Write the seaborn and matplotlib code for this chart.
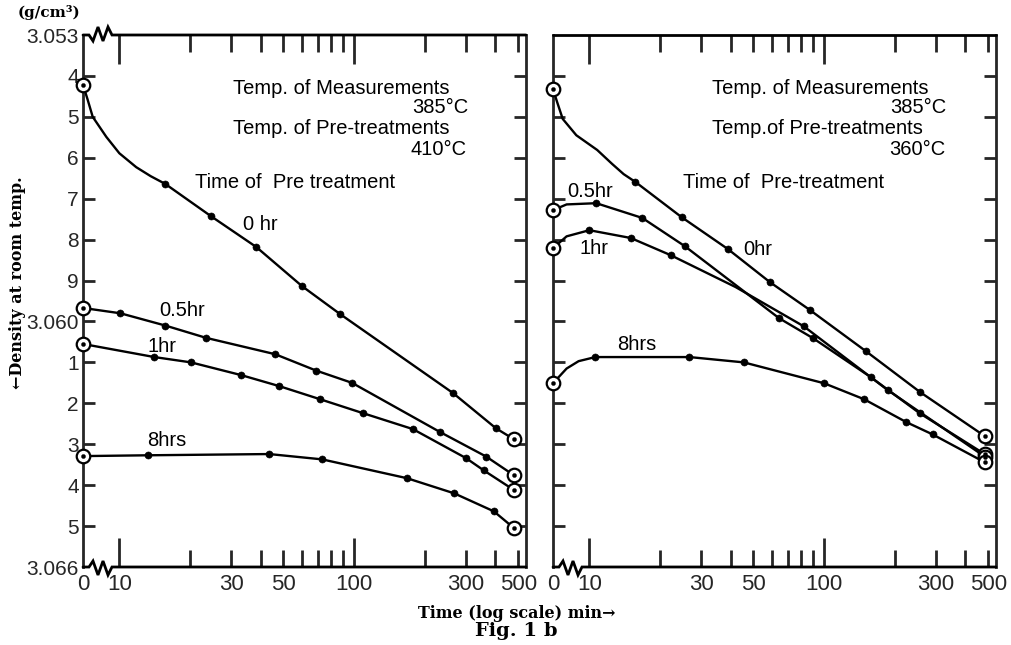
import numpy as np
import pandas as pd
import matplotlib
matplotlib.use("Agg")
import matplotlib.pyplot as plt
import seaborn as sns

# ===============================
# DATA
# ===============================
T0 = 7.0          # where "0 min" sits on the broken log axis

# ---- left panel : pre-treatment 410 C ----
L0_t = [0, 15.7, 24.6, 38.3, 60.1, 87.2, 264, 402, 480]
L0_d = [3.05422, 3.05664, 3.05743, 3.05818, 3.05914, 3.05982, 3.06175, 3.06261, 3.06288]
L0_bend_t = [7.3, 7.7, 8.8, 10.0, 11.8, 13.6]
L0_bend_d = [3.05455, 3.05500, 3.05549, 3.05589, 3.05623, 3.05645]

L05_t = [0, 10.1, 15.7, 23.4, 46.1, 68.9, 98, 232, 365, 480]
L05_d = [3.05967, 3.0598, 3.0601, 3.0604, 3.0608, 3.0612, 3.0615, 3.0627, 3.0633, 3.06376]

L1_t = [0, 14.1, 20.2, 33.0, 48.0, 71.6, 109, 178, 300, 357, 480]
L1_d = [3.06055, 3.06087, 3.0610, 3.06131, 3.06158, 3.0619, 3.06224, 3.06263, 3.06334, 3.06364, 3.06412]

L8_t = [0, 13.3, 43.5, 73.1, 168, 267, 394, 480]
L8_d = [3.06329, 3.06327, 3.06324, 3.06337, 3.06383, 3.0642, 3.06464, 3.06505]

# ---- right panel : pre-treatment 360 C ----
R0_t = [0, 15.7, 24.7, 38.9, 58.8, 87, 151, 257, 483]
R0_d = [3.05432, 3.05659, 3.05745, 3.05823, 3.05904, 3.05972, 3.06073, 3.06173, 3.0628]
R0_bend_t = [7.3, 7.7, 8.8, 10.8, 12.5, 14.0]
R0_bend_d = [3.05465, 3.05505, 3.05545, 3.05581, 3.05615, 3.05640]

R05_t = [0, 10.7, 16.8, 25.5, 64.3, 89.8, 158, 255, 483]
R05_d = [3.05728, 3.05711, 3.05747, 3.05816, 3.05992, 3.06041, 3.06136, 3.06224, 3.06324]
R05_bend_t = [8.0]
R05_bend_d = [3.05714]

R1_t = [0, 10.0, 15.0, 22.2, 82, 187, 483]
R1_d = [3.05821, 3.05777, 3.05796, 3.05838, 3.06012, 3.06168, 3.0633]
R1_bend_t = [8.0, 42]
R1_bend_d = [3.05792, 3.05916]

R8_t = [0, 10.6, 26.7, 45.5, 100, 148, 224, 290, 483]
R8_d = [3.06151, 3.06087, 3.06087, 3.06100, 3.06151, 3.0619, 3.06246, 3.06276, 3.06344]
R8_bend_t = [8.0, 9.0]
R8_bend_d = [3.06115, 3.06097]

y_ticks = [3.053, 3.054, 3.055, 3.056, 3.057, 3.058, 3.059, 3.060,
           3.061, 3.062, 3.063, 3.064, 3.065, 3.066]
y_labels = ["3.053", "4", "5", "6", "7", "8", "9", "3.060",
            "1", "2", "3", "4", "5", "3.066"]
x_major = [10, 100]
x_minor = [20, 30, 40, 50, 60, 70, 80, 90, 200, 300, 400, 500]
x_minor_labels = ["", "30", "", "50", "", "", "", "", "", "300", "", "500"]


def build(series):
    rows, curve = [], []
    for name, t, d, bt, bd in series:
        for ti, di in zip(t, d):
            kind = "circle" if (ti == 0 or ti >= 470) else "dot"
            rows.append((name, ti, di, kind))
            curve.append((name, ti, di))
        for ti, di in zip(bt, bd):
            curve.append((name, ti, di))
    pts = pd.DataFrame(rows, columns=["series", "t", "d", "kind"])
    cur = pd.DataFrame(curve, columns=["series", "t", "d"])
    for df in (pts, cur):
        df["pos"] = np.where(df["t"] == 0, T0, df["t"])
    return pts, cur.sort_values(["series", "pos"])


left_pts, left_cur = build([
    ("0hr", L0_t, L0_d, L0_bend_t, L0_bend_d),
    ("0.5hr", L05_t, L05_d, [], []),
    ("1hr", L1_t, L1_d, [], []),
    ("8hrs", L8_t, L8_d, [], []),
])
right_pts, right_cur = build([
    ("0hr", R0_t, R0_d, R0_bend_t, R0_bend_d),
    ("0.5hr", R05_t, R05_d, R05_bend_t, R05_bend_d),
    ("1hr", R1_t, R1_d, R1_bend_t, R1_bend_d),
    ("8hrs", R8_t, R8_d, R8_bend_t, R8_bend_d),
])

# ===============================
# PLOT
# ===============================
sns.set_style("white")
plt.rcParams["font.family"] = ["Liberation Sans", "DejaVu Sans"]
plt.rcParams["axes.linewidth"] = 2.0

W, H = 1011, 645
fig = plt.figure(figsize=(W / 100, H / 100), dpi=100)
AX_W, AX_H = 443, 532
ax_l = fig.add_axes([83 / W, 1 - 567 / H, AX_W / W, AX_H / H])
ax_r = fig.add_axes([553 / W, 1 - 567 / H, AX_W / W, AX_H / H])

TXT = dict(family=["Liberation Sans", "DejaVu Sans"], fontsize=14.5, color="black")


def draw_panel(ax, pts, cur, labels_on, top_break):
    sns.lineplot(data=cur, x="pos", y="d", units="series", estimator=None,
                 sort=False, color="black", lw=1.7, ax=ax, legend=False)
    dots = pts[pts["kind"] == "dot"]
    circ = pts[pts["kind"] == "circle"]
    sns.scatterplot(data=dots, x="pos", y="d", color="black", s=26,
                    edgecolor="black", ax=ax, legend=False, zorder=4)
    sns.scatterplot(data=circ, x="pos", y="d", facecolor="white", s=95,
                    edgecolor="black", linewidth=1.6, ax=ax, legend=False,
                    zorder=5, clip_on=False)
    sns.scatterplot(data=circ, x="pos", y="d", color="black", s=9,
                    edgecolor="black", ax=ax, legend=False, zorder=6,
                    clip_on=False)

    ax.set_xscale("log")
    ax.set_xlim(T0, 540)
    ax.set_ylim(3.066, 3.053)

    ax.set_xticks([T0] + x_major, ["0", "10", "100"])
    ax.set_xticks(x_minor, x_minor_labels, minor=True)
    ax.tick_params(axis="x", which="major", direction="in", length=21,
                   width=2, top=True, bottom=True, pad=5, labelsize=16)
    ax.tick_params(axis="x", which="minor", direction="in", length=12,
                   width=2, top=True, bottom=True, pad=5, labelsize=16)
    first = ax.xaxis.get_major_ticks()[0]
    first.tick1line.set_visible(False)
    first.tick2line.set_visible(False)

    ax.set_yticks(y_ticks, y_labels if labels_on else [""] * len(y_ticks))
    ax.tick_params(axis="y", which="major", direction="in", length=8.5,
                   width=2, left=True, right=True, pad=3, labelsize=15)
    yt = ax.yaxis.get_major_ticks()
    for k in (0, -1):
        yt[k].tick1line.set_visible(False)
        yt[k].tick2line.set_visible(False)

    ax.set_xlabel("")
    ax.set_ylabel("")

    # broken axis: redraw top/bottom spines with a zigzag near "0"
    ax.spines["top"].set_visible(False)
    ax.spines["bottom"].set_visible(False)
    zz_x = np.array([0, 6, 10, 15, 20, 25, 29]) / AX_W
    zz_y = np.array([0, 0, 6, -8, 6, -8, 0]) / AX_H
    kw = dict(transform=ax.transAxes, color="black", lw=2.0,
              clip_on=False, solid_joinstyle="miter", zorder=7)
    ax.plot(np.r_[zz_x, 1.0], np.r_[zz_y, 0.0], **kw)
    if top_break:
        ax.plot(np.r_[zz_x, 1.0], np.r_[1 - zz_y, 1.0], **kw)
    else:
        ax.plot([0, 1], [1, 1], **kw)


draw_panel(ax_l, left_pts, left_cur, True, True)
draw_panel(ax_r, right_pts, right_cur, False, False)

# ---- annotations, left panel ----
ax_l.text(0.339, 0.900, "Temp. of Measurements", transform=ax_l.transAxes, va="center", **TXT)
ax_l.text(0.869, 0.863, "385°C", transform=ax_l.transAxes, va="center", ha="right", **TXT)
ax_l.text(0.339, 0.825, "Temp. of Pre-treatments", transform=ax_l.transAxes, va="center", **TXT)
ax_l.text(0.865, 0.784, "410°C", transform=ax_l.transAxes, va="center", ha="right", **TXT)
ax_l.text(0.253, 0.722, "Time of  Pre treatment", transform=ax_l.transAxes, va="center", **TXT)
ax_l.text(0.400, 0.643, "0 hr", transform=ax_l.transAxes, va="center", ha="center", **TXT)
ax_l.text(0.223, 0.483, "0.5hr", transform=ax_l.transAxes, va="center", ha="center", **TXT)
ax_l.text(0.178, 0.414, "1hr", transform=ax_l.transAxes, va="center", ha="center", **TXT)
ax_l.text(0.190, 0.237, "8hrs", transform=ax_l.transAxes, va="center", ha="center", **TXT)

# ---- annotations, right panel ----
ax_r.text(0.359, 0.900, "Temp. of Measurements", transform=ax_r.transAxes, va="center", **TXT)
ax_r.text(0.889, 0.863, "385°C", transform=ax_r.transAxes, va="center", ha="right", **TXT)
ax_r.text(0.359, 0.825, "Temp.of Pre-treatments", transform=ax_r.transAxes, va="center", **TXT)
ax_r.text(0.885, 0.784, "360°C", transform=ax_r.transAxes, va="center", ha="right", **TXT)
ax_r.text(0.293, 0.722, "Time of  Pre-treatment", transform=ax_r.transAxes, va="center", **TXT)
ax_r.text(0.463, 0.596, "0hr", transform=ax_r.transAxes, va="center", ha="center", **TXT)
ax_r.text(0.084, 0.705, "0.5hr", transform=ax_r.transAxes, va="center", ha="center", **TXT)
ax_r.text(0.092, 0.598, "1hr", transform=ax_r.transAxes, va="center", ha="center", **TXT)
ax_r.text(0.188, 0.419, "8hrs", transform=ax_r.transAxes, va="center", ha="center", **TXT)

# ---- figure labels ----
SERIF = dict(family=["DejaVu Serif"], fontweight="bold", color="black")
fig.text(18 / W, 1 - 13 / H, "(g/cm³)", ha="left", va="center", fontsize=11, **SERIF)
fig.text(18 / W, 1 - 283 / H, "←Density at room temp.", rotation=90,
         ha="center", va="center", fontsize=11.5, **SERIF)
fig.text(517 / W, 1 - 613 / H, "Time (log scale) min→", ha="center",
         va="center", fontsize=11.5, **SERIF)
fig.text(516 / W, 1 - 631 / H, "Fig. 1 b", ha="center", va="center",
         fontsize=14, **SERIF)

plt.savefig("out.png", dpi=100)
